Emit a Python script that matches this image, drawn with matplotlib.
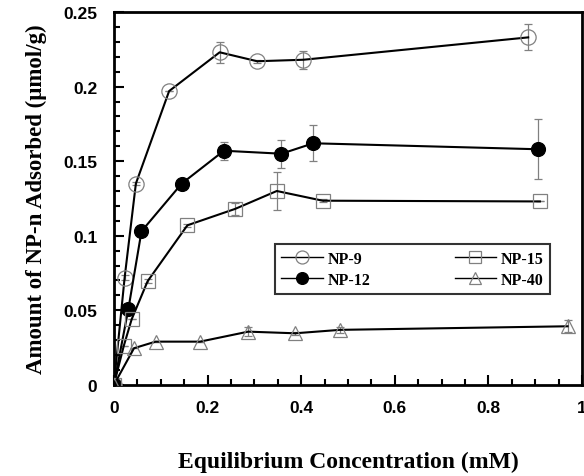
import matplotlib
matplotlib.use("Agg")
import matplotlib.pyplot as plt
from matplotlib.ticker import MultipleLocator

# NP-9
x_np9 = [0.0, 0.023, 0.047, 0.118, 0.226, 0.306, 0.405, 0.885]
y_np9 = [0.0, 0.072, 0.135, 0.197, 0.223, 0.217, 0.218, 0.233]
e_np9 = [0.0, 0.0015, 0.001, 0.0, 0.007, 0.001, 0.006, 0.0087]

# NP-12
x_np12 = [0.0, 0.031, 0.059, 0.145, 0.235, 0.358, 0.426, 0.905]
y_np12 = [0.0, 0.051, 0.103, 0.135, 0.157, 0.155, 0.162, 0.158]
e_np12 = [0.0, 0.0, 0.0, 0.0, 0.006, 0.0093, 0.012, 0.020]

# NP-15
x_np15 = [0.0, 0.021, 0.038, 0.072, 0.157, 0.259, 0.348, 0.446, 0.910]
y_np15 = [0.0, 0.026, 0.044, 0.0695, 0.107, 0.118, 0.130, 0.1235, 0.123]
e_np15 = [0.0, 0.0, 0.0, 0.0015, 0.001, 0.004, 0.0126, 0.001, 0.0]

# NP-40
x_np40 = [0.0, 0.043, 0.089, 0.184, 0.287, 0.387, 0.483, 0.969]
y_np40 = [0.0, 0.0246, 0.029, 0.029, 0.0357, 0.0346, 0.0369, 0.0393]
e_np40 = [0.0, 0.0, 0.0, 0.0, 0.003, 0.001, 0.002, 0.004]

x_ticks = [0, 0.2, 0.4, 0.6, 0.8, 1.0]
x_ticklabels = ["0", "0.2", "0.4", "0.6", "0.8", "1"]
y_ticks = [0, 0.05, 0.1, 0.15, 0.2, 0.25]
y_ticklabels = ["0", "0.05", "0.1", "0.15", "0.2", "0.25"]

sans = "Liberation Sans"
serif = "Liberation Serif"
grey = "#808080"

fig = plt.figure(figsize=(5.84, 4.77), dpi=100)
ax = fig.add_axes([0.195, 0.191, 0.8016, 0.7817])

series = [
    (x_np9, y_np9, e_np9, "NP-9", "o", "white", 11),
    (x_np12, y_np12, e_np12, "NP-12", "o", "black", 10),
    (x_np15, y_np15, e_np15, "NP-15", "s", "white", 10),
    (x_np40, y_np40, e_np40, "NP-40", "^", "white", 10),
]
for xs, ys, es, lab, mk, fc, ms in series:
    mec = "black" if fc == "black" else grey
    ax.errorbar(xs, ys, yerr=es, fmt="none", ecolor=grey, elinewidth=0.9,
                capsize=3, capthick=0.9, zorder=2)
    ax.plot(xs, ys, color="black", lw=1.5, marker=mk, ms=ms,
            mfc="none" if fc == "white" else fc,
            mec=mec, mew=0.9, label=lab, zorder=3)

ax.set_xlim(0, 1)
ax.set_ylim(0, 0.25)
ax.set_xticks(x_ticks)
ax.set_xticklabels(x_ticklabels)
ax.set_yticks(y_ticks)
ax.set_yticklabels(y_ticklabels)
ax.xaxis.set_minor_locator(MultipleLocator(0.05))
ax.yaxis.set_minor_locator(MultipleLocator(0.01))

ax.tick_params(which="both", direction="in", top=False, right=False, width=1.5)
ax.tick_params(which="major", length=7)
ax.tick_params(axis="y", which="major", pad=12)
ax.tick_params(axis="x", which="major", pad=11)
ax.tick_params(which="minor", length=4)
for lbl in ax.get_xticklabels() + ax.get_yticklabels():
    lbl.set_fontfamily(sans)
    lbl.set_fontweight("bold")
    lbl.set_fontsize(12.5)
for sp in ax.spines.values():
    sp.set_linewidth(2)

ax.set_xlabel("Equilibrium Concentration (mM)", fontfamily=serif, fontweight="bold",
              fontsize=17, labelpad=26)
ax.set_ylabel("Amount of NP-n Adsorbed (\u03bcmol/g)", fontfamily=serif, fontweight="bold",
              fontsize=16.5, labelpad=12)

leg = ax.legend(ncol=2, loc="lower left", bbox_to_anchor=(0.344, 0.244, 0.588, 0.139),
                mode="expand", frameon=True, fancybox=False, edgecolor="black",
                prop={"family": serif, "weight": "bold", "size": 11.5},
                handlelength=2.6, handletextpad=0.3, borderaxespad=0, labelspacing=0.3,
                markerscale=0.85)
leg.get_frame().set_linewidth(1.5)
for h in leg.get_lines():
    h.set_linewidth(1.0)

fig.savefig("out.png", dpi=100)
